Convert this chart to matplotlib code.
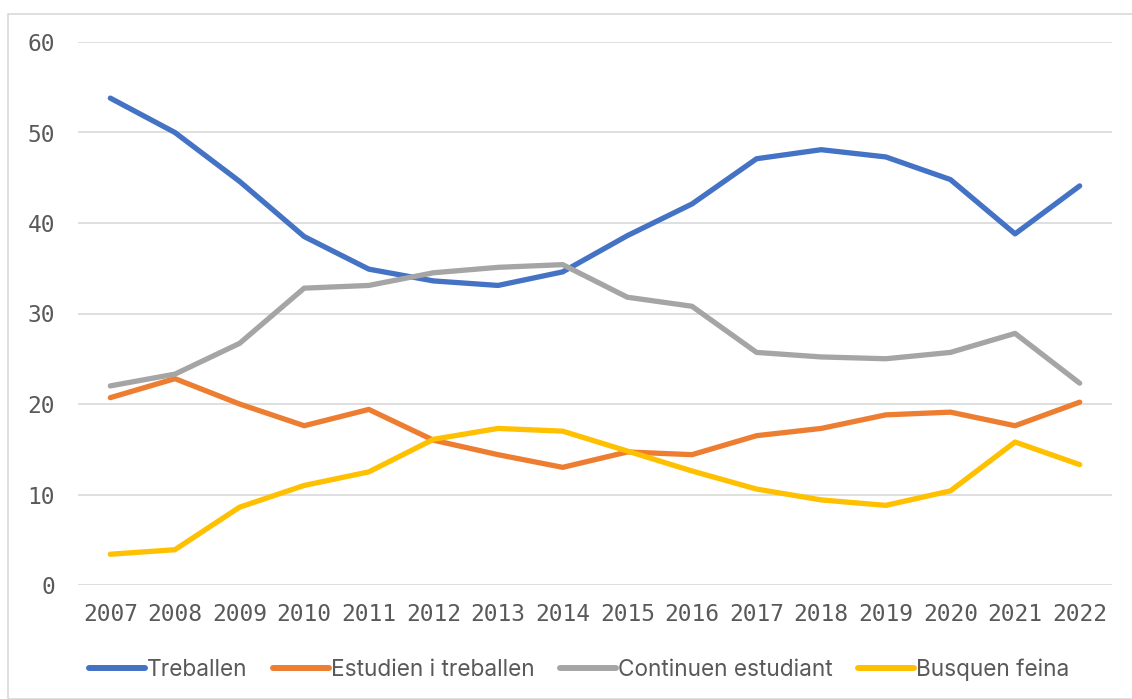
import matplotlib
matplotlib.use("Agg")
import matplotlib.pyplot as plt
from matplotlib.patches import Rectangle

years = [2007, 2008, 2009, 2010, 2011, 2012, 2013, 2014, 2015, 2016, 2017, 2018, 2019, 2020, 2021, 2022]
treballen = [53.8, 50.0, 44.6, 38.5, 34.9, 33.6, 33.1, 34.6, 38.6, 42.1, 47.1, 48.1, 47.3, 44.8, 38.8, 44.1]
estudien_treballen = [20.7, 22.8, 20.0, 17.6, 19.4, 16.0, 14.4, 13.0, 14.7, 14.4, 16.5, 17.3, 18.8, 19.1, 17.6, 20.2]
continuen_estudiant = [22.0, 23.3, 26.7, 32.8, 33.1, 34.5, 35.1, 35.4, 31.8, 30.8, 25.7, 25.2, 25.0, 25.7, 27.8, 22.3]
busquen_feina = [3.4, 3.9, 8.6, 11.0, 12.5, 16.1, 17.3, 17.0, 14.8, 12.6, 10.6, 9.4, 8.8, 10.4, 15.8, 13.3]

series = [
    ("Treballen", treballen, "#4472C4"),
    ("Estudien i treballen", estudien_treballen, "#ED7D31"),
    ("Continuen estudiant", continuen_estudiant, "#A5A5A5"),
    ("Busquen feina", busquen_feina, "#FFC000"),
]
yticks = [0, 10, 20, 30, 40, 50, 60]

W, H = 1132, 699
fig = plt.figure(figsize=(W / 100, H / 100), dpi=100)
ax = fig.add_axes([78 / W, 1 - 585 / H, (1112 - 78) / W, (585 - 42) / H])

fig.patches.append(Rectangle((8 / W, 0), 1.2, 1 - 14 / H, transform=fig.transFigure,
                             fill=False, edgecolor="#D9D9D9", linewidth=1.2))

for name, vals, col in series:
    ax.plot(years, vals, color=col, linewidth=3.8, label=name,
            solid_capstyle="round", solid_joinstyle="round")

ax.set_xlim(2006.5, 2022.5)
ax.set_ylim(0, 60)
ax.set_yticks(yticks)
ax.set_xticks(years)
ax.set_xticklabels([str(y) for y in years])
ax.grid(axis="y", color="#D9D9D9", linewidth=1.2)
ax.set_axisbelow(True)
for s in ax.spines.values():
    s.set_visible(False)
ax.tick_params(length=0, colors="#595959", labelsize=16.5)
ax.tick_params(axis="x", pad=13)
ax.tick_params(axis="y", pad=16.5)
for lab in ax.get_xticklabels() + ax.get_yticklabels():
    lab.set_fontfamily("DejaVu Sans Mono")

leg = fig.legend(loc="center", bbox_to_anchor=(579 / W, 1 - 670 / H), ncol=4, frameon=False,
                 prop={"family": "Inter", "size": 16.3}, handlelength=2.48, handletextpad=0.1,
                 columnspacing=1.1, labelcolor="#595959")
for h in leg.get_lines():
    h.set_linewidth(4.3)
    h.set_solid_capstyle("round")

fig.savefig("out.png", dpi=100)
